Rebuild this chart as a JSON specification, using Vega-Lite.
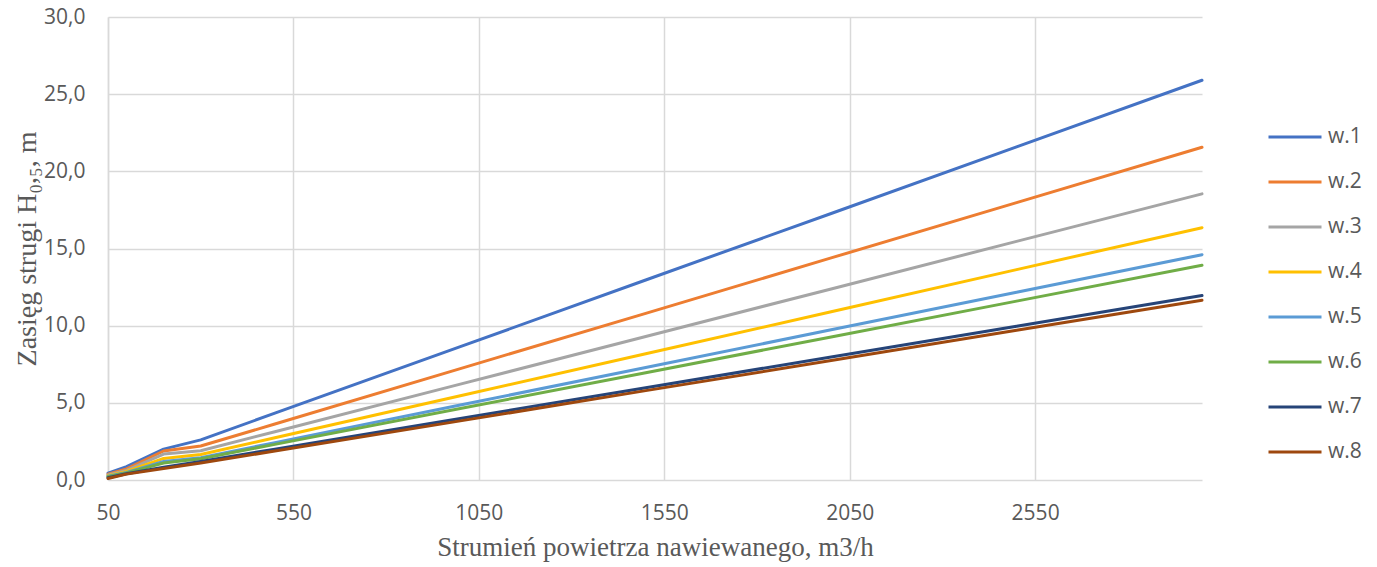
{
  "$schema": "https://vega.github.io/schema/vega-lite/v6.json",
  "width": 1094,
  "height": 463,
  "autosize": {"type": "none"},
  "padding": {"left": 108, "top": 17, "right": 175, "bottom": 87},
  "background": "white",
  "config": {"view": {"stroke": null}},
  "data": {"values": [
    {"x":50,"s":"w.1","y":0.45},{"x":100,"s":"w.1","y":0.86},{"x":200,"s":"w.1","y":2.0},{"x":300,"s":"w.1","y":2.6},{"x":500,"s":"w.1","y":4.33},{"x":1000,"s":"w.1","y":8.64},{"x":1500,"s":"w.1","y":12.96},{"x":2000,"s":"w.1","y":17.27},{"x":2500,"s":"w.1","y":21.59},{"x":3000,"s":"w.1","y":25.9},
    {"x":50,"s":"w.2","y":0.38},{"x":100,"s":"w.2","y":0.72},{"x":200,"s":"w.2","y":1.88},{"x":300,"s":"w.2","y":2.2},{"x":500,"s":"w.2","y":3.63},{"x":1000,"s":"w.2","y":7.22},{"x":1500,"s":"w.2","y":10.8},{"x":2000,"s":"w.2","y":14.39},{"x":2500,"s":"w.2","y":17.97},{"x":3000,"s":"w.2","y":21.56},
    {"x":50,"s":"w.3","y":0.33},{"x":100,"s":"w.3","y":0.62},{"x":200,"s":"w.3","y":1.68},{"x":300,"s":"w.3","y":1.9},{"x":500,"s":"w.3","y":3.13},{"x":1000,"s":"w.3","y":6.21},{"x":1500,"s":"w.3","y":9.3},{"x":2000,"s":"w.3","y":12.38},{"x":2500,"s":"w.3","y":15.46},{"x":3000,"s":"w.3","y":18.54},
    {"x":50,"s":"w.4","y":0.28},{"x":100,"s":"w.4","y":0.55},{"x":200,"s":"w.4","y":1.4},{"x":300,"s":"w.4","y":1.65},{"x":500,"s":"w.4","y":2.74},{"x":1000,"s":"w.4","y":5.46},{"x":1500,"s":"w.4","y":8.18},{"x":2000,"s":"w.4","y":10.9},{"x":2500,"s":"w.4","y":13.63},{"x":3000,"s":"w.4","y":16.35},
    {"x":50,"s":"w.5","y":0.25},{"x":100,"s":"w.5","y":0.49},{"x":200,"s":"w.5","y":1.2},{"x":300,"s":"w.5","y":1.45},{"x":500,"s":"w.5","y":2.42},{"x":1000,"s":"w.5","y":4.86},{"x":1500,"s":"w.5","y":7.29},{"x":2000,"s":"w.5","y":9.73},{"x":2500,"s":"w.5","y":12.16},{"x":3000,"s":"w.5","y":14.6},
    {"x":50,"s":"w.6","y":0.22},{"x":100,"s":"w.6","y":0.46},{"x":200,"s":"w.6","y":1.1},{"x":300,"s":"w.6","y":1.38},{"x":500,"s":"w.6","y":2.31},{"x":1000,"s":"w.6","y":4.63},{"x":1500,"s":"w.6","y":6.95},{"x":2000,"s":"w.6","y":9.27},{"x":2500,"s":"w.6","y":11.59},{"x":3000,"s":"w.6","y":13.91},
    {"x":50,"s":"w.7","y":0.15},{"x":100,"s":"w.7","y":0.4},{"x":200,"s":"w.7","y":0.82},{"x":300,"s":"w.7","y":1.2},{"x":500,"s":"w.7","y":2.0},{"x":1000,"s":"w.7","y":3.99},{"x":1500,"s":"w.7","y":5.98},{"x":2000,"s":"w.7","y":7.97},{"x":2500,"s":"w.7","y":9.96},{"x":3000,"s":"w.7","y":11.95},
    {"x":50,"s":"w.8","y":0.1},{"x":100,"s":"w.8","y":0.38},{"x":200,"s":"w.8","y":0.75},{"x":300,"s":"w.8","y":1.1},{"x":500,"s":"w.8","y":1.88},{"x":1000,"s":"w.8","y":3.83},{"x":1500,"s":"w.8","y":5.79},{"x":2000,"s":"w.8","y":7.74},{"x":2500,"s":"w.8","y":9.7},{"x":3000,"s":"w.8","y":11.65}
  ]},
  "mark": {"type": "line", "strokeWidth": 3, "strokeCap": "round", "strokeJoin": "round"},
  "encoding": {
    "x": {
      "field": "x", "type": "quantitative",
      "scale": {"domain": [50, 3000], "nice": false, "zero": false},
      "axis": {
        "values": [50, 550, 1050, 1550, 2050, 2550],
        "format": "d",
        "labelFlush": false,
        "title": "Strumień powietrza nawiewanego, m3/h",
        "titleFont": "Liberation Serif", "titleFontSize": 27, "titleFontWeight": "normal", "titleColor": "#595959",
        "titlePadding": 11,
        "labelFont": "Open Sans", "labelFontSize": 21, "labelColor": "#595959", "labelPadding": 22,
        "ticks": false, "domain": false,
        "grid": true, "gridColor": "#d9d9d9", "gridWidth": 1.5
      }
    },
    "y": {
      "field": "y", "type": "quantitative",
      "scale": {"domain": [0, 30], "nice": false},
      "axis": {
        "values": [0, 5, 10, 15, 20, 25, 30],
        "format": ".1f",
        "labelExpr": "replace(datum.label, '.', ',')",
        "title": "Zasięg strugi H₀,₅, m",
        "titleFont": "Liberation Serif", "titleFontSize": 28, "titleFontWeight": "normal", "titleColor": "#595959",
        "titlePadding": 2,
        "labelFont": "Open Sans", "labelFontSize": 21, "labelColor": "#595959", "labelPadding": 23,
        "ticks": false, "domain": true, "domainColor": "#d9d9d9", "domainWidth": 1.5,
        "grid": true, "gridColor": "#d9d9d9", "gridWidth": 1.5
      }
    },
    "color": {
      "field": "s", "type": "nominal",
      "scale": {
        "domain": ["w.1","w.2","w.3","w.4","w.5","w.6","w.7","w.8"],
        "range": ["#4472C4","#ED7D31","#A5A5A5","#FFC000","#5B9BD5","#70AD47","#264478","#9E480E"]
      },
      "legend": {
        "title": null,
        "orient": "none",
        "legendX": 1159,
        "legendY": 105,
        "symbolType": "stroke",
        "symbolSize": 2809,
        "symbolStrokeWidth": 3,
        "clipHeight": 30,
        "rowPadding": 15,
        "labelFont": "Open Sans", "labelFontSize": 21, "labelColor": "#595959",
        "labelOffset": 5
      }
    }
  }
}
